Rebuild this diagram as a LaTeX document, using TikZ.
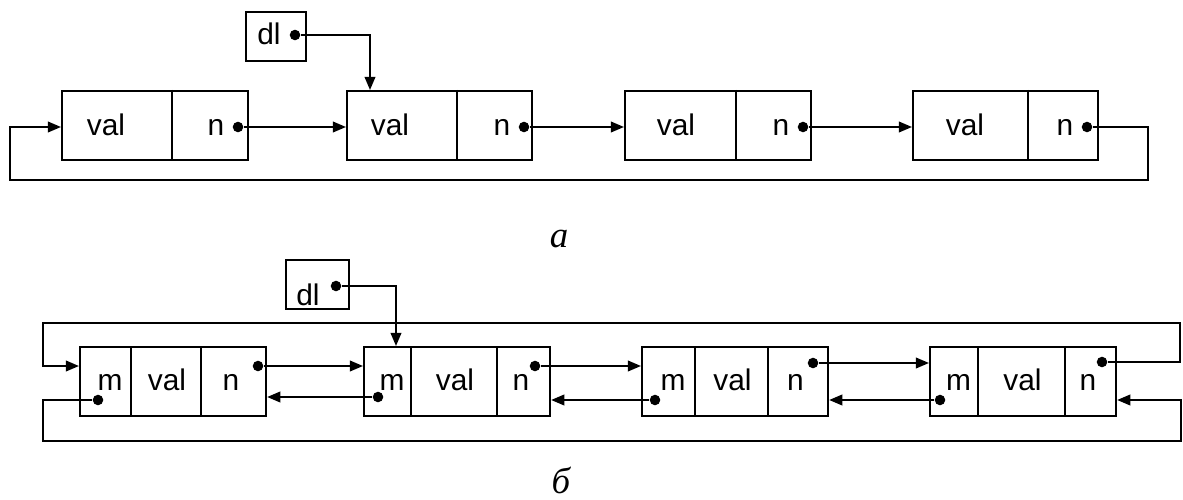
\documentclass[tikz,border=0pt]{standalone}
\usepackage{fontspec}
\setmainfont{Liberation Sans}
\newfontfamily\capfont{Liberation Serif}
\usetikzlibrary{arrows.meta}

\begin{document}
\begin{tikzpicture}[x=0.02cm, y=-0.02cm, line width=1.2pt,
  font=\fontsize{17}{20}\selectfont,
  rec/.style={draw, inner sep=0pt, anchor=north west},
  lbl/.style={inner sep=0pt, anchor=base},
  ptr/.style={-{Triangle[length=7.5pt,width=6pt]}},
  dot/.style={circle, fill, inner sep=0pt, minimum size=6pt},
  sublbl/.style={inner sep=0pt, anchor=base, font=\capfont\itshape\fontsize{21}{24}\selectfont}]
  \useasboundingbox (0,0) rectangle (1183,500);
  % ---------- a: singly linked ring ----------
  \foreach \nm/\l/\d/\r/\v/\p in {a1/61/172/247/106/238, a2/346/457/531/390/524,
      a3/624/736/810/676/803, a4/912/1028/1097/965/1087}{
    \node[rec, minimum width={(\r-\l)*0.02cm}, minimum height=1.38cm] (\nm) at (\l,90) {};
    \draw (\d,90) -- (\d,159);
    \node[lbl] (\nm-val) at (\v,135) {val};
    \node[lbl] (\nm-nt) at (\p-22,135) {n};
    \node[dot] (\nm-p) at (\p,127) {};
  }
  % ---------- a: head pointer ----------
  \node[rec, minimum width=1.2cm, minimum height=0.98cm] (dlA) at (245,11) {};
  \node[lbl] (dlA-t) at (269,45) {dl};
  \node[dot] (dlA-p) at (295,35) {};
  \draw[ptr] (dlA-p) -| ([xshift=0.48cm]a2.north west);
  % ---------- a: links ----------
  \draw[ptr] (a1-p) -- (a1-p -| a2.west);
  \draw[ptr] (a2-p) -- (a2-p -| a3.west);
  \draw[ptr] (a3-p) -- (a3-p -| a4.west);
  \coordinate (aR) at (1148,180);
  \coordinate (aL) at (10,180);
  \draw[ptr] (a4-p) -| (aR) -- (aL) |- (a1.west |- a1-p);
  \node[sublbl] (capA) at (559,247) {а};
  % ---------- b: doubly linked ring ----------
  \foreach \nm/\l/\da/\db/\r/\mx/\my/\nx/\ny in {b1/79/131/201/265/98/400/258/366,
      b2/363/411/497/549/378/397/535/366, b3/641/695/768/827/655/400/813/363,
      b4/929/978/1065/1115/940/400/1102/362}{
    \node[rec, minimum width={(\r-\l)*0.02cm}, minimum height=1.38cm] (\nm) at (\l,346) {};
    \draw (\da,346) -- (\da,415) (\db,346) -- (\db,415);
    \node[lbl] (\nm-mt) at ({(\l+\da)/2+5},390) {m};
    \node[lbl] (\nm-val) at ({(\da+\db)/2+1},390) {val};
    \node[lbl] (\nm-nt) at ({(\db+\r)/2-2},390) {n};
    \node[dot] (\nm-m) at (\mx,\my) {};
    \node[dot] (\nm-n) at (\nx,\ny) {};
  }
  % ---------- b: head pointer ----------
  \node[rec, minimum width=1.26cm, minimum height=0.98cm] (dlB) at (285,259) {};
  \node[lbl] (dlB-t) at (308,305) {dl};
  \node[dot] (dlB-p) at (336,286) {};
  \draw[ptr] (dlB-p) -| ([xshift=0.66cm]b2.north west);
  % ---------- b: links ----------
  \foreach \i/\j in {b1/b2, b2/b3, b3/b4}{
    \draw[ptr] (\i-n) -- (\i-n -| \j.west);
    \draw[ptr] (\j-m) -- (\j-m -| \i.east);
  }
  \coordinate (bTR) at (1180,323);
  \coordinate (bTL) at (43,323);
  \draw[ptr] (b4-n) -| (bTR) -- (bTL) |- (b1.west |- b1-n);
  \coordinate (bBL) at (43,441);
  \coordinate (bBR) at (1181,441);
  \draw[ptr] (b1-m) -| (bBL) -- (bBR) |- (b4.east |- b4-m);
  \node[sublbl] (capB) at (561,493) {б};
\end{tikzpicture}
\end{document}
